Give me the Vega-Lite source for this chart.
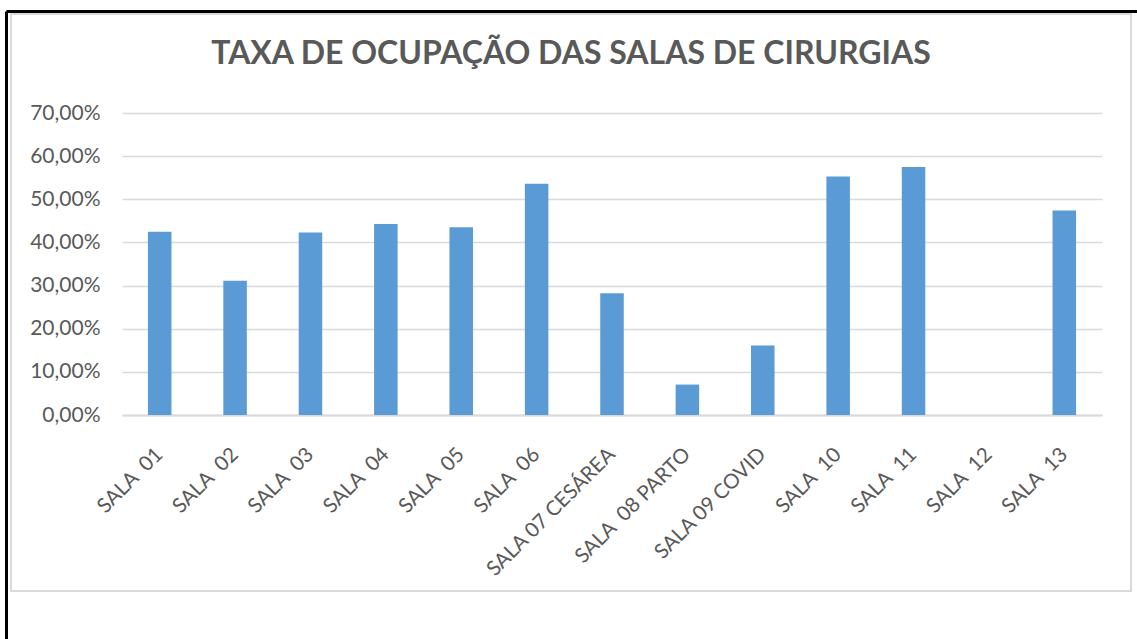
{
  "$schema": "https://vega.github.io/schema/vega-lite/v6.json",
  "width": 1120,
  "height": 577,
  "autosize": {"type": "none"},
  "padding": {"left": 11, "top": 14, "right": 6, "bottom": 48},
  "background": "white",
  "title": {
    "text": "TAXA DE OCUPAÇÃO DAS SALAS DE CIRURGIAS",
    "anchor": "middle",
    "frame": "group",
    "font": "Lato",
    "fontSize": 32,
    "fontWeight": "bold",
    "color": "#595959",
    "offset": -51,
    "dy": 34,
    "baseline": "alphabetic"
  },
  "config": {"view": {"stroke": "#D9D9D9", "strokeWidth": 2}},
  "data": {
    "values": [
      {"sala": "SALA  01", "taxa": 0.425},
      {"sala": "SALA  02", "taxa": 0.311},
      {"sala": "SALA  03", "taxa": 0.423},
      {"sala": "SALA  04", "taxa": 0.443},
      {"sala": "SALA  05", "taxa": 0.435},
      {"sala": "SALA  06", "taxa": 0.536},
      {"sala": "SALA 07 CESÁREA", "taxa": 0.282},
      {"sala": "SALA  08 PARTO", "taxa": 0.0705},
      {"sala": "SALA 09 COVID", "taxa": 0.161},
      {"sala": "SALA  10", "taxa": 0.553},
      {"sala": "SALA  11", "taxa": 0.575},
      {"sala": "SALA  12", "taxa": 0},
      {"sala": "SALA  13", "taxa": 0.474}
    ]
  },
  "layer": [
    {
      "mark": {"type": "bar", "color": "#5B9BD5"},
      "encoding": {
        "x": {
          "field": "sala",
          "type": "nominal",
          "sort": null,
          "scale": {"range": [111, 1091], "paddingInner": 0.688, "paddingOuter": 0.344},
          "axis": {
            "orient": "bottom",
            "offset": -176,
            "title": null,
            "domainColor": "#D9D9D9",
            "domainWidth": 2,
            "ticks": false,
            "tickSize": 0,
            "grid": false,
            "labelAngle": -45,
            "labelAlign": "right",
            "labelBaseline": "middle",
            "labelPadding": 36,
            "labelExpr": "replace(datum.label, '  ', ' \u00a0')",
            "labelFont": "Lato",
            "labelFontSize": 20.5,
            "labelColor": "#595959"
          }
        },
        "y": {
          "field": "taxa",
          "type": "quantitative",
          "scale": {"domain": [0, 0.7], "range": [401, 99], "nice": false, "zero": true},
          "axis": {
            "orient": "left",
            "offset": -111,
            "title": null,
            "domain": false,
            "ticks": false,
            "tickSize": 0,
            "labelPadding": 22,
            "grid": true,
            "gridColor": "#D9D9D9",
            "gridWidth": 1.5,
            "values": [0, 0.1, 0.2, 0.3, 0.4, 0.5, 0.6, 0.7],
            "labelExpr": "replace(format(datum.value, '.2%'), '.', ',')",
            "labelFont": "Lato",
            "labelFontSize": 21,
            "labelColor": "#595959"
          }
        }
      }
    },
    {
      "mark": {"type": "point", "opacity": 0},
      "encoding": {
        "x": {
          "field": "taxa",
          "type": "quantitative",
          "scale": {"domain": [0, 1], "range": [-5, 1130], "nice": false, "zero": false},
          "axis": {
            "orient": "top",
            "offset": 3,
            "title": null,
            "domainColor": "#000000",
            "domainWidth": 3,
            "labels": false,
            "ticks": false,
            "grid": false
          }
        },
        "y": {
          "field": "taxa",
          "type": "quantitative",
          "scale": {"domain": [0, 1], "range": [630, -3], "nice": false, "zero": false},
          "axis": {
            "orient": "left",
            "offset": 5,
            "title": null,
            "domainColor": "#000000",
            "domainWidth": 3,
            "labels": false,
            "ticks": false,
            "grid": false
          }
        }
      }
    }
  ],
  "resolve": {
    "scale": {"x": "independent", "y": "independent"},
    "axis": {"x": "independent", "y": "independent"}
  }
}
